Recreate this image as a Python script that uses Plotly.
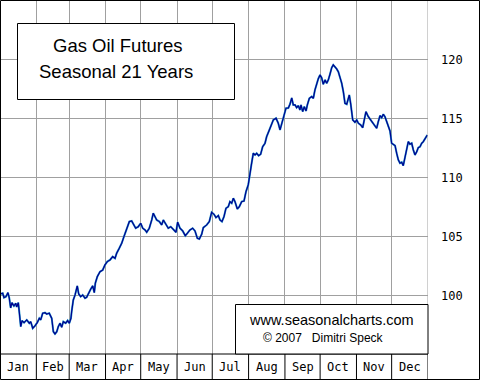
import plotly.graph_objects as go

# ---------------- data ----------------
months = ["Jan", "Feb", "Mar", "Apr", "May", "Jun", "Jul", "Aug", "Sep", "Oct", "Nov", "Dec"]
month_start_days = [0, 31, 59, 90, 120, 151, 181, 212, 243, 273, 304, 334, 365]
ytick_vals = [100, 105, 110, 115, 120]
title_lines = ["Gas Oil Futures", "Seasonal 21 Years"]
credit_lines = ["www.seasonalcharts.com", "\u00a9 2007   Dimitri Speck"]

day_of_year = [
    0, 2.3, 3.4, 5.1, 6.8, 7.9, 9.1, 10.2, 11.9, 13.4, 14.2, 15.6, 16.5, 17.7, 18.8, 20.5,
    22.8, 25.0, 26.2, 27.9, 29.8, 31.8, 33.5, 34.7, 36.4, 38.4, 39.8, 42.0, 44.1, 45.5,
    46.9, 48.4, 49.7, 51.2, 52.6, 54.0, 56.0, 57.7, 59.1, 60.5, 61.1, 62.5, 64.0, 65.9,
    67.1, 68.8, 70.5, 72.5, 73.9, 75.3, 77.3, 79.1, 80.4, 81.3, 83.0, 85.3, 87.6, 89.5,
    91.5, 93.8, 96.1, 98.1, 99.5, 101.7, 103.8, 105.7, 108.0, 110.3, 112.3, 113.7, 115.7,
    117.9, 120.0, 121.7, 123.7, 125.1, 127.3, 129.4, 130.7, 132.2, 133.6, 135.9, 137.9,
    139.3, 141.6, 143.5, 145.6, 147.8, 150.1, 151.5, 153.5, 155.8, 158.0, 159.7, 162.0,
    164.3, 166.3, 168.3, 170.0, 172.0, 173.4, 176.3, 178.5, 180.5, 182.5, 184.2, 186.2,
    187.6, 189.3, 191.0, 192.7, 194.7, 196.1, 197.6, 199.0, 200.4, 202.4, 204.1, 206.1,
    208.1, 209.8, 211.7, 213.2, 214.6, 216.0, 217.5, 218.9, 220.6, 222.3, 224.0, 226.0,
    227.4, 229.7, 231.7, 233.1, 235.4, 237.3, 238.8, 240.2, 242.2, 243.9, 245.9, 247.3,
    248.8, 250.1, 251.6, 253.0, 254.4, 255.8, 256.7, 258.1, 259.5, 261.0, 262.1, 263.8,
    265.8, 267.2, 268.6, 270.1, 271.4, 272.9, 274.3, 275.7, 277.2, 278.6, 280.0, 281.4,
    282.9, 284.2, 285.7, 287.1, 288.5, 290.0, 291.4, 292.8, 294.2, 295.7, 297.0, 297.9,
    299.1, 299.9, 300.8, 302.7, 304.2, 305.6, 307.6, 309.3, 310.4, 312.1, 314.1, 316.1,
    318.3, 319.8, 321.2, 322.6, 324.1, 325.5, 326.9, 328.3, 329.8, 331.1, 332.6, 334.0,
    335.4, 336.9, 338.3, 339.7, 341.1, 342.6, 343.9, 345.4, 346.8, 348.2, 349.6, 351.1,
    352.5, 353.9, 355.4, 356.7, 358.2, 359.6, 361.0, 362.4, 364.4,
]
seasonal_index = [
    100.17, 100.23, 99.86, 99.94, 100.28, 99.83, 98.98, 99.43, 99.15, 99.38, 99.07, 99.43,
    98.58, 97.40, 97.91, 97.74, 97.97, 97.69, 97.82, 97.26, 97.46, 97.74, 98.11, 97.97,
    98.53, 98.58, 98.47, 98.53, 98.11, 96.97, 96.78, 96.97, 97.40, 97.69, 97.35, 97.82,
    97.69, 97.91, 97.69, 98.11, 98.67, 99.66, 100.08, 100.85, 100.17, 99.94, 100.08, 99.81,
    99.89, 100.23, 100.57, 100.85, 100.28, 101.08, 101.64, 102.06, 102.20, 102.63, 102.91,
    103.05, 103.33, 103.19, 103.62, 104.04, 104.47, 105.03, 105.74, 106.30, 106.36, 106.08,
    105.74, 105.87, 106.16, 105.74, 105.59, 105.40, 105.74, 106.44, 107.01, 106.72, 106.44,
    106.30, 106.02, 106.44, 106.02, 105.74, 105.87, 105.68, 105.40, 106.25, 105.74, 105.51,
    105.11, 105.31, 105.59, 105.74, 105.51, 104.89, 104.83, 105.23, 105.79, 106.02, 106.30,
    107.09, 106.92, 106.64, 106.81, 106.44, 106.30, 106.72, 107.43, 107.57, 107.99, 107.86,
    108.28, 107.99, 107.37, 107.57, 107.99, 108.05, 108.84, 109.41, 110.53, 111.25, 112.09,
    111.95, 112.09, 111.89, 112.01, 112.65, 112.94, 113.50, 114.07, 114.49, 114.92, 115.06,
    114.64, 114.07, 114.64, 115.48, 115.91, 115.93, 116.25, 116.78, 116.19, 116.19, 115.96,
    116.13, 115.76, 116.19, 115.62, 116.04, 115.68, 116.19, 116.75, 116.89, 116.75, 117.46,
    118.03, 118.39, 118.73, 118.50, 117.94, 118.31, 118.03, 118.31, 118.79, 119.35, 119.58,
    119.43, 119.24, 119.01, 118.58, 118.03, 117.31, 116.33, 116.25, 116.89, 117.03, 116.25,
    115.34, 114.92, 114.72, 114.92, 114.64, 114.49, 114.26, 114.92, 115.62, 115.19, 114.92,
    114.55, 114.43, 114.21, 114.77, 115.28, 115.11, 115.40, 115.19, 114.77, 114.43, 113.98,
    112.94, 112.80, 112.74, 112.09, 111.53, 111.25, 111.33, 111.04, 111.67, 112.37, 113.08,
    112.86, 112.94, 112.37, 111.95, 112.23, 112.57, 112.65, 112.94, 113.08, 113.36, 113.64,
]

# ---------------- geometry helpers (layout only) ----------------
W, H = 480, 380
ML, MR, MT, MB = 0, 52, 0, 26
PW, PH = W - ML - MR, H - MT - MB


def px(x):
    return (x - ML) / PW


def py(y):
    return 1 - (y - MT) / PH


GRID = "#a0a0a0"

fig = go.Figure()
fig.add_trace(go.Scatter(
    x=day_of_year, y=seasonal_index, mode="lines",
    line=dict(color="#2a9ccc", width=2.0), hoverinfo="skip", showlegend=False,
))
fig.add_trace(go.Scatter(
    x=day_of_year, y=seasonal_index, mode="lines",
    line=dict(color="#000090", width=1.2), showlegend=False,
))

shapes = []
shapes.append(dict(type="line", xref="x", yref="paper", x0=365, x1=365, y0=0, y1=1,
                   line=dict(color=GRID, width=1), layer="above"))
shapes.append(dict(type="line", xref="paper", yref="paper", x0=0, x1=1, y0=0, y1=0,
                   line=dict(color="black", width=1)))
for d in month_start_days[1:]:
    shapes.append(dict(type="line", xref="x", yref="paper", x0=d, x1=d,
                       y0=py(H), y1=0, line=dict(color="black", width=1)))
shapes.append(dict(type="rect", xref="paper", yref="paper",
                   x0=px(17.5), x1=px(234.5), y0=py(99.5), y1=py(23.5),
                   fillcolor="white", line=dict(color="black", width=1)))
shapes.append(dict(type="rect", xref="paper", yref="paper",
                   x0=px(235.5), x1=1, y0=0, y1=py(304.5),
                   fillcolor="white", line=dict(color="black", width=1)))
shapes.append(dict(type="rect", xref="paper", yref="paper",
                   x0=px(0.5), x1=px(479.5), y0=py(379.5), y1=py(0.5),
                   line=dict(color="black", width=1)))

annotations = []
for i, m in enumerate(months):
    annotations.append(dict(
        x=(month_start_days[i] + month_start_days[i + 1]) / 2, xref="x",
        y=py(367), yref="paper", text=m, showarrow=False,
        xanchor="center", yanchor="middle",
        font=dict(family="DejaVu Sans Mono", size=12, color="black"),
    ))
annotations.append(dict(x=px(118), y=py(45), xref="paper", yref="paper",
                        text=title_lines[0], showarrow=False, xanchor="center", yanchor="middle",
                        font=dict(family="Liberation Sans, Arial", size=18.5, color="black")))
annotations.append(dict(x=px(116), y=py(71), xref="paper", yref="paper",
                        text=title_lines[1], showarrow=False, xanchor="center", yanchor="middle",
                        font=dict(family="Liberation Sans, Arial", size=18.5, color="black")))
annotations.append(dict(x=px(331.5), y=py(320), xref="paper", yref="paper",
                        text=credit_lines[0], showarrow=False, xanchor="center", yanchor="middle",
                        font=dict(family="Liberation Sans, Arial", size=14.5, color="black")))
annotations.append(dict(x=px(323.5), y=py(338), xref="paper", yref="paper",
                        text=credit_lines[1], showarrow=False, xanchor="center", yanchor="middle",
                        font=dict(family="Liberation Sans, Arial", size=12, color="black")))

fig.update_layout(
    width=W, height=H,
    margin=dict(l=ML, r=MR, t=MT, b=MB, pad=0),
    paper_bgcolor="white", plot_bgcolor="white",
    showlegend=False,
    shapes=shapes, annotations=annotations,
    xaxis=dict(range=[0, 365], tickvals=month_start_days[1:-1], showticklabels=False,
               ticks="", showgrid=True, gridcolor=GRID, gridwidth=1,
               zeroline=False, showline=False, fixedrange=True, automargin=False),
    yaxis=dict(side="right", range=[95.08, 125.08], tickvals=ytick_vals,
               ticks="", ticklabelstandoff=12, showgrid=True, gridcolor=GRID, gridwidth=1,
               zeroline=False, showline=False, fixedrange=True, automargin=False,
               tickfont=dict(family="DejaVu Sans Mono", size=12, color="black")),
)

fig.write_html(
    "out.html",
    config={"displayModeBar": False},
    post_script="document.body.style.margin='0';document.body.style.overflow='hidden';",
)
